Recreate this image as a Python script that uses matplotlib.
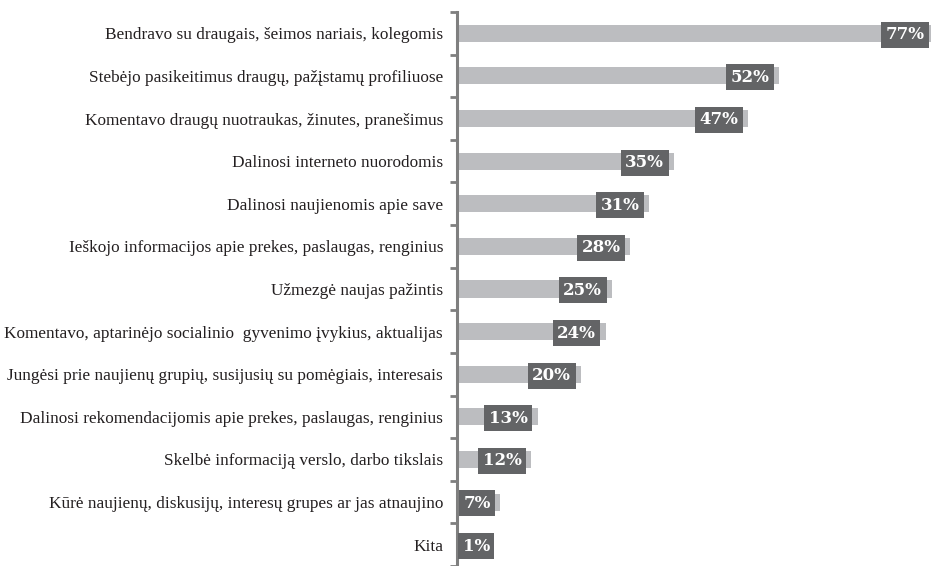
import matplotlib
matplotlib.use("Agg")
import matplotlib.pyplot as plt
import numpy as np

categories = [
    "Bendravo su draugais, šeimos nariais, kolegomis",
    "Stebėjo pasikeitimus draugų, pažįstamų profiliuose",
    "Komentavo draugų nuotraukas, žinutes, pranešimus",
    "Dalinosi interneto nuorodomis",
    "Dalinosi naujienomis apie save",
    "Ieškojo informacijos apie prekes, paslaugas, renginius",
    "Užmezgė naujas pažintis",
    "Komentavo, aptarinėjo socialinio  gyvenimo įvykius, aktualijas",
    "Jungėsi prie naujienų grupių, susijusių su pomėgiais, interesais",
    "Dalinosi rekomendacijomis apie prekes, paslaugas, renginius",
    "Skelbė informaciją verslo, darbo tikslais",
    "Kūrė naujienų, diskusijų, interesų grupes ar jas atnaujino",
    "Kita",
]
values = [77, 52, 47, 35, 31, 28, 25, 24, 20, 13, 12, 7, 1]
value_labels = ["77%", "52%", "47%", "35%", "31%", "28%", "25%", "24%", "20%", "13%", "12%", "7%", "1%"]

BAR = "#bcbdc0"
BOX = "#636466"
TXT = "#231f20"
AX = "#7f7f7f"

fig = plt.figure(figsize=(9.31, 5.66), dpi=100)
ax = fig.add_axes([457 / 931, 0.0, 1 - 457 / 931, 1 - 12 / 566])

y = np.arange(len(values))
ax.barh(y, values, height=0.4, color=BAR, zorder=1)
ax.set_ylim(len(values) - 0.5, -0.5)
ax.set_xlim(0, 76.5)

ax.set_yticks(y)
ax.set_yticklabels(categories, fontsize=12.4, color=TXT, family=["Liberation Serif", "DejaVu Serif"])
ax.tick_params(axis="y", which="major", length=0, pad=10)
ax.set_yticks(np.arange(len(values) + 1) - 0.5, minor=True)
ax.tick_params(axis="y", which="minor", length=5, width=2, color=AX, direction="out")
ax.set_xticks([])

for s in ["top", "right", "bottom"]:
    ax.spines[s].set_visible(False)
ax.spines["left"].set_color(AX)
ax.spines["left"].set_linewidth(2.2)

for yi, v, lab in zip(y, values, value_labels):
    if v >= 5:
        xy, off, ha = (v, yi), (-7, -1), "right"
    else:
        xy, off, ha = (0, yi), (4, -1), "left"
    ax.annotate(lab, xy=xy, xytext=off, textcoords="offset points",
                ha=ha, va="center", color="white", fontsize=12, fontweight="bold",
                family=["DejaVu Serif"], zorder=3, annotation_clip=False,
                bbox=dict(boxstyle="square,pad=0.27", fc=BOX, ec="none"))

fig.savefig("out.png", dpi=100)
